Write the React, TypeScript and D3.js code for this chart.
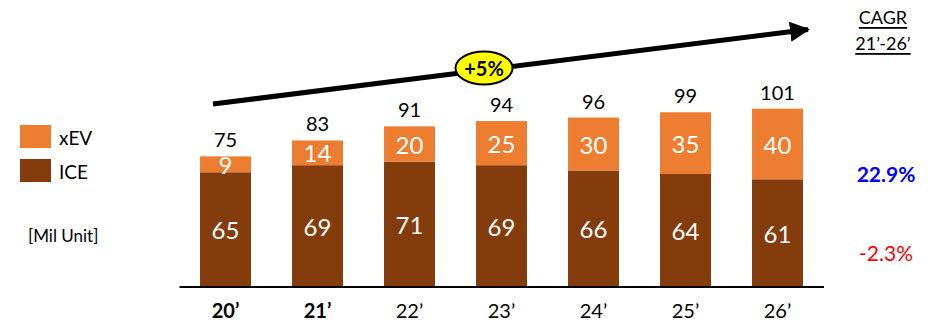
import React from "react";
import * as d3 from "d3";

const categories = ["20’", "21’", "22’", "23’", "24’", "25’", "26’"];
const boldCategories = ["20’", "21’"];
const iceValues = [65, 69, 71, 69, 66, 64, 61];
const xevValues = [9, 14, 20, 25, 30, 35, 40];
const totalLabels = [75, 83, 91, 94, 96, 99, 101];
const cagrLabels = ["22.9%", "-2.3%"];
const growthLabel = "+5%";

const W = 941;
const H = 326;
const FONT = "Lato, 'Open Sans', sans-serif";
const ORANGE = "#ED7D31";
const BROWN = "#843C0C";

export default function App() {
  const x = d3
    .scaleBand<string>()
    .domain(categories)
    .range([179.5, 823.5])
    .paddingInner(0.446)
    .paddingOuter(0.223);
  const y = d3.scaleLinear().domain([0, 101]).range([287, 108.7]);
  const bw = x.bandwidth();

  return (
    <svg width={W} height={H} style={{ position: "absolute", left: 0, top: 0 }} fontFamily={FONT}>
      <defs>
        <marker id="ah" viewBox="0 0 10 10" refX="9" refY="5" markerWidth="4" markerHeight="4" orient="auto" markerUnits="strokeWidth">
          <path d="M0,0 L10,5 L0,10 z" fill="#000" />
        </marker>
      </defs>
      {/* arrow */}
      <line x1={213} y1={104} x2={808} y2={29.5} stroke="#000" strokeWidth={5} markerEnd="url(#ah)" />
      <ellipse cx={484} cy={68} rx={28.5} ry={16.5} fill="#FFFF00" stroke="#000" strokeWidth={2} />
      <text x={484} y={68} textAnchor="middle" dominantBaseline="central" fontSize={20} fontWeight="bold">{growthLabel}</text>

      {/* bars */}
      {categories.map((c, i) => {
        const x0 = x(c)!;
        const iceTop = y(iceValues[i]);
        const xevTop = y(iceValues[i] + xevValues[i]);
        const cx = x0 + bw / 2;
        return (
          <g key={c}>
            <rect x={x0} y={iceTop} width={bw} height={y(0) - iceTop} fill={BROWN} />
            <rect x={x0} y={xevTop} width={bw} height={iceTop - xevTop} fill={ORANGE} />
            <text x={cx} y={(iceTop + y(0)) / 2} textAnchor="middle" dominantBaseline="central" fill="#fff" fontSize={24}>{iceValues[i]}</text>
            <text x={cx} y={(iceTop + xevTop) / 2} textAnchor="middle" dominantBaseline="central" fill="#fff" fontSize={24}>{xevValues[i]}</text>
            <text x={cx} y={xevTop - 17} textAnchor="middle" dominantBaseline="central" fill="#000" fontSize={20}>{totalLabels[i]}</text>
            <text x={cx} y={310} textAnchor="middle" dominantBaseline="central" fill="#000" fontSize={20} fontWeight={boldCategories.includes(c) ? "bold" : "normal"}>{c}</text>
          </g>
        );
      })}
      <line x1={179.5} x2={824} y1={287} y2={287} stroke="#000" strokeWidth={2} />

      {/* legend */}
      <rect x={20} y={125} width={31} height={23} fill={ORANGE} />
      <text x={59} y={137} dominantBaseline="central" fontSize={19}>xEV</text>
      <rect x={20} y={159} width={31} height={23} fill={BROWN} />
      <text x={59} y={171} dominantBaseline="central" fontSize={19}>ICE</text>
      <text x={28} y={235} dominantBaseline="central" fontSize={17}>[Mil Unit]</text>

      {/* CAGR */}
      <text x={883} y={17} textAnchor="middle" dominantBaseline="central" fontSize={18} textDecoration="underline">CAGR</text>
      <text x={883} y={43} textAnchor="middle" dominantBaseline="central" fontSize={18} textDecoration="underline">21’-26’</text>
      <text x={886} y={173} textAnchor="middle" dominantBaseline="central" fontSize={21} fontWeight="bold" fill="#0000FF">{cagrLabels[0]}</text>
      <text x={886} y={252} textAnchor="middle" dominantBaseline="central" fontSize={21} fill="#FF0000">{cagrLabels[1]}</text>
    </svg>
  );
}
